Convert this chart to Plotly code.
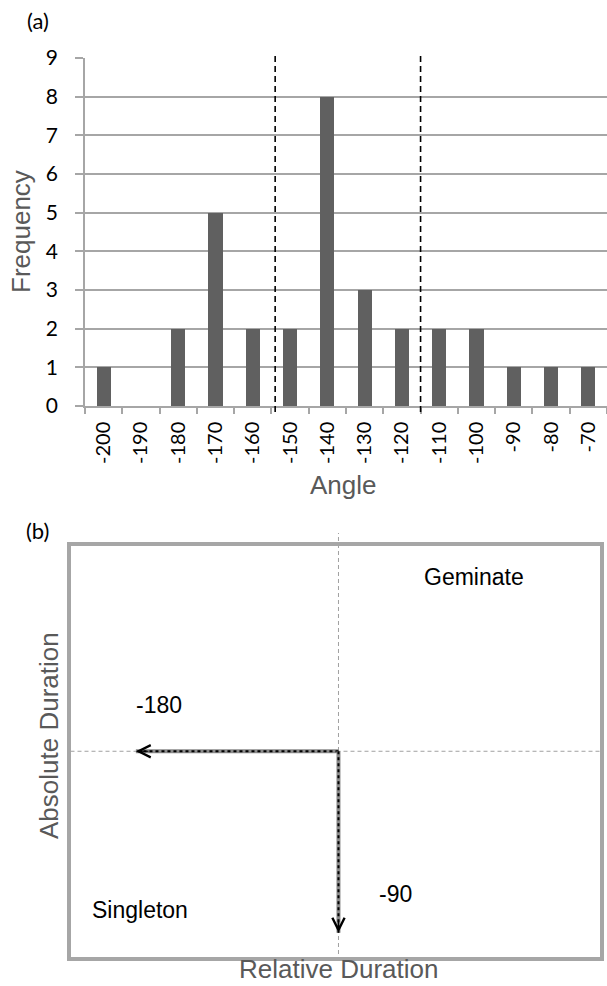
import math
import plotly.graph_objects as go

# ---- panel (a): angle histogram ----
angles = [-200, -190, -180, -170, -160, -150, -140, -130, -120, -110, -100, -90, -80, -70]
frequency = [1, 0, 2, 5, 2, 2, 8, 3, 2, 2, 2, 1, 1, 1]
threshold_angles = [-154, -115]
freq_ticks = list(range(0, 10))

# ---- panel (b): duration plane ----
arrow_angles = [-180, -90]
arrow_lengths = [0.756, 0.882]
arrow_labels = ["-180", "-90"]
arrow_label_pos = [(-0.67, 0.226), (0.211, -0.693)]
region_labels = ["Geminate", "Singleton"]
region_label_pos = [(0.5075, 0.846), (-0.741, -0.770)]

W, H = 607, 986


def px(x):
    return x / W


def py(y):
    return 1 - y / H


GRID = "#a6a6a6"
TITLE_GRAY = "#595959"
SANS = "Liberation Sans, Arial, sans-serif"
TICKF = "Lato, Open Sans, sans-serif"

fig = go.Figure()

cats = [str(a) for a in angles]
fig.add_trace(go.Bar(
    x=cats, y=frequency, width=0.38,
    marker=dict(color="#606060", line=dict(width=0)),
    xaxis="x", yaxis="y", showlegend=False,
))

step = angles[1] - angles[0]
shapes = []
for a in threshold_angles:
    idx = (a - angles[0]) / step
    shapes.append(dict(
        type="line", xref="x", yref="paper",
        x0=idx, x1=idx, y0=py(412), y1=py(52),
        line=dict(color="black", width=1.6, dash="6px,4px"),
    ))

# crosshair in panel (b)
shapes.append(dict(
    type="line", xref="x2 domain", yref="y2",
    x0=0, x1=1, y0=0, y1=0,
    line=dict(color="#a0a0a0", width=1, dash="4px,3px"), layer="below",
))
shapes.append(dict(
    type="line", xref="x2", yref="paper",
    x0=0, x1=0, y0=py(954), y1=py(533),
    line=dict(color="#a0a0a0", width=1, dash="4px,3px"), layer="below",
))

annotations = []
# arrows from the origin along each angle
for ang, L in zip(arrow_angles, arrow_lengths):
    tx = L * math.cos(math.radians(ang))
    ty = L * math.sin(math.radians(ang))
    tx = 0 if abs(tx) < 1e-9 else tx
    ty = 0 if abs(ty) < 1e-9 else ty
    fig.add_trace(go.Scatter(
        x=[0, tx], y=[0, ty], mode="lines",
        line=dict(color="#8a8a8a", width=4),
        xaxis="x2", yaxis="y2", showlegend=False, hoverinfo="skip",
    ))
    fig.add_trace(go.Scatter(
        x=[0, tx], y=[0, ty], mode="lines",
        line=dict(color="black", width=2, dash="dot"),
        xaxis="x2", yaxis="y2", showlegend=False, hoverinfo="skip",
    ))
    dx = -math.cos(math.radians(ang)) * 14
    dy = math.sin(math.radians(ang)) * 14
    annotations.append(dict(
        x=tx, y=ty, xref="x2", yref="y2", text="",
        showarrow=True, arrowhead=5, arrowsize=2, arrowwidth=1.2,
        arrowcolor="black", ax=dx, ay=dy,
    ))


def label(x, y, text, xref, yref, font, angle=0):
    return dict(x=x, y=y, xref=xref, yref=yref, text=text, showarrow=False,
                xanchor="center", yanchor="middle", textangle=angle, font=font)


for t, (x, y) in zip(arrow_labels, arrow_label_pos):
    annotations.append(label(x, y, t, "x2", "y2", dict(family=SANS, size=23, color="black")))
for t, (x, y) in zip(region_labels, region_label_pos):
    annotations.append(label(x, y, t, "x2", "y2", dict(family=SANS, size=23, color="black")))

# panel captions and axis titles
cap_font = dict(family=TICKF, size=22, color="black")
title_font = dict(family=SANS, size=26, color=TITLE_GRAY)
annotations += [
    label(px(37.5), py(20), "(a)", "paper", "paper", cap_font),
    label(px(37), py(530), "(b)", "paper", "paper", cap_font),
    label(px(21), py(232), "Frequency", "paper", "paper", title_font, -90),
    label(px(343), py(485), "Angle", "paper", "paper", title_font),
    label(px(49), py(735), "Absolute Duration", "paper", "paper", title_font, -90),
    label(px(338), py(969), "Relative Duration", "paper", "paper", title_font),
]

fig.update_layout(
    width=W, height=H,
    margin=dict(l=0, r=0, t=0, b=0),
    paper_bgcolor="white", plot_bgcolor="white",
    bargap=0,
    xaxis=dict(
        domain=[px(85), 1.0], anchor="y", type="category",
        categoryorder="array", categoryarray=cats,
        range=[-0.5, len(cats) - 0.5],
        tickson="boundaries", ticks="outside", ticklen=6, tickwidth=1.5, tickcolor=GRID,
        showline=True, linecolor=GRID, linewidth=1.5, showgrid=False,
        tickangle=-90, tickfont=dict(family=TICKF, size=20, color="black"),
        ticklabelstandoff=6, automargin=False,
    ),
    yaxis=dict(
        domain=[py(406), py(58)], anchor="x", range=[0, 9],
        tickvals=freq_ticks, ticks="outside", ticklen=8, tickwidth=1.5, tickcolor=GRID,
        showgrid=True, gridcolor=GRID, gridwidth=1.5,
        showline=True, linecolor=GRID, linewidth=1.5, zeroline=False,
        tickfont=dict(family=TICKF, size=21, color="black"),
        ticklabelstandoff=13, automargin=False,
    ),
    xaxis2=dict(
        domain=[px(70.5), px(600)], anchor="y2", range=[-1, 0.976],
        showline=True, mirror=True, linecolor="#a6a6a6", linewidth=3.5,
        showgrid=False, zeroline=False, showticklabels=False, ticks="",
    ),
    yaxis2=dict(
        domain=[py(957), py(545.5)], anchor="x2", range=[-1, 1],
        showline=True, mirror=True, linecolor="#a6a6a6", linewidth=3.5,
        showgrid=False, zeroline=False, showticklabels=False, ticks="",
    ),
    shapes=shapes,
    annotations=annotations,
)

fig.write_html("out.html")
